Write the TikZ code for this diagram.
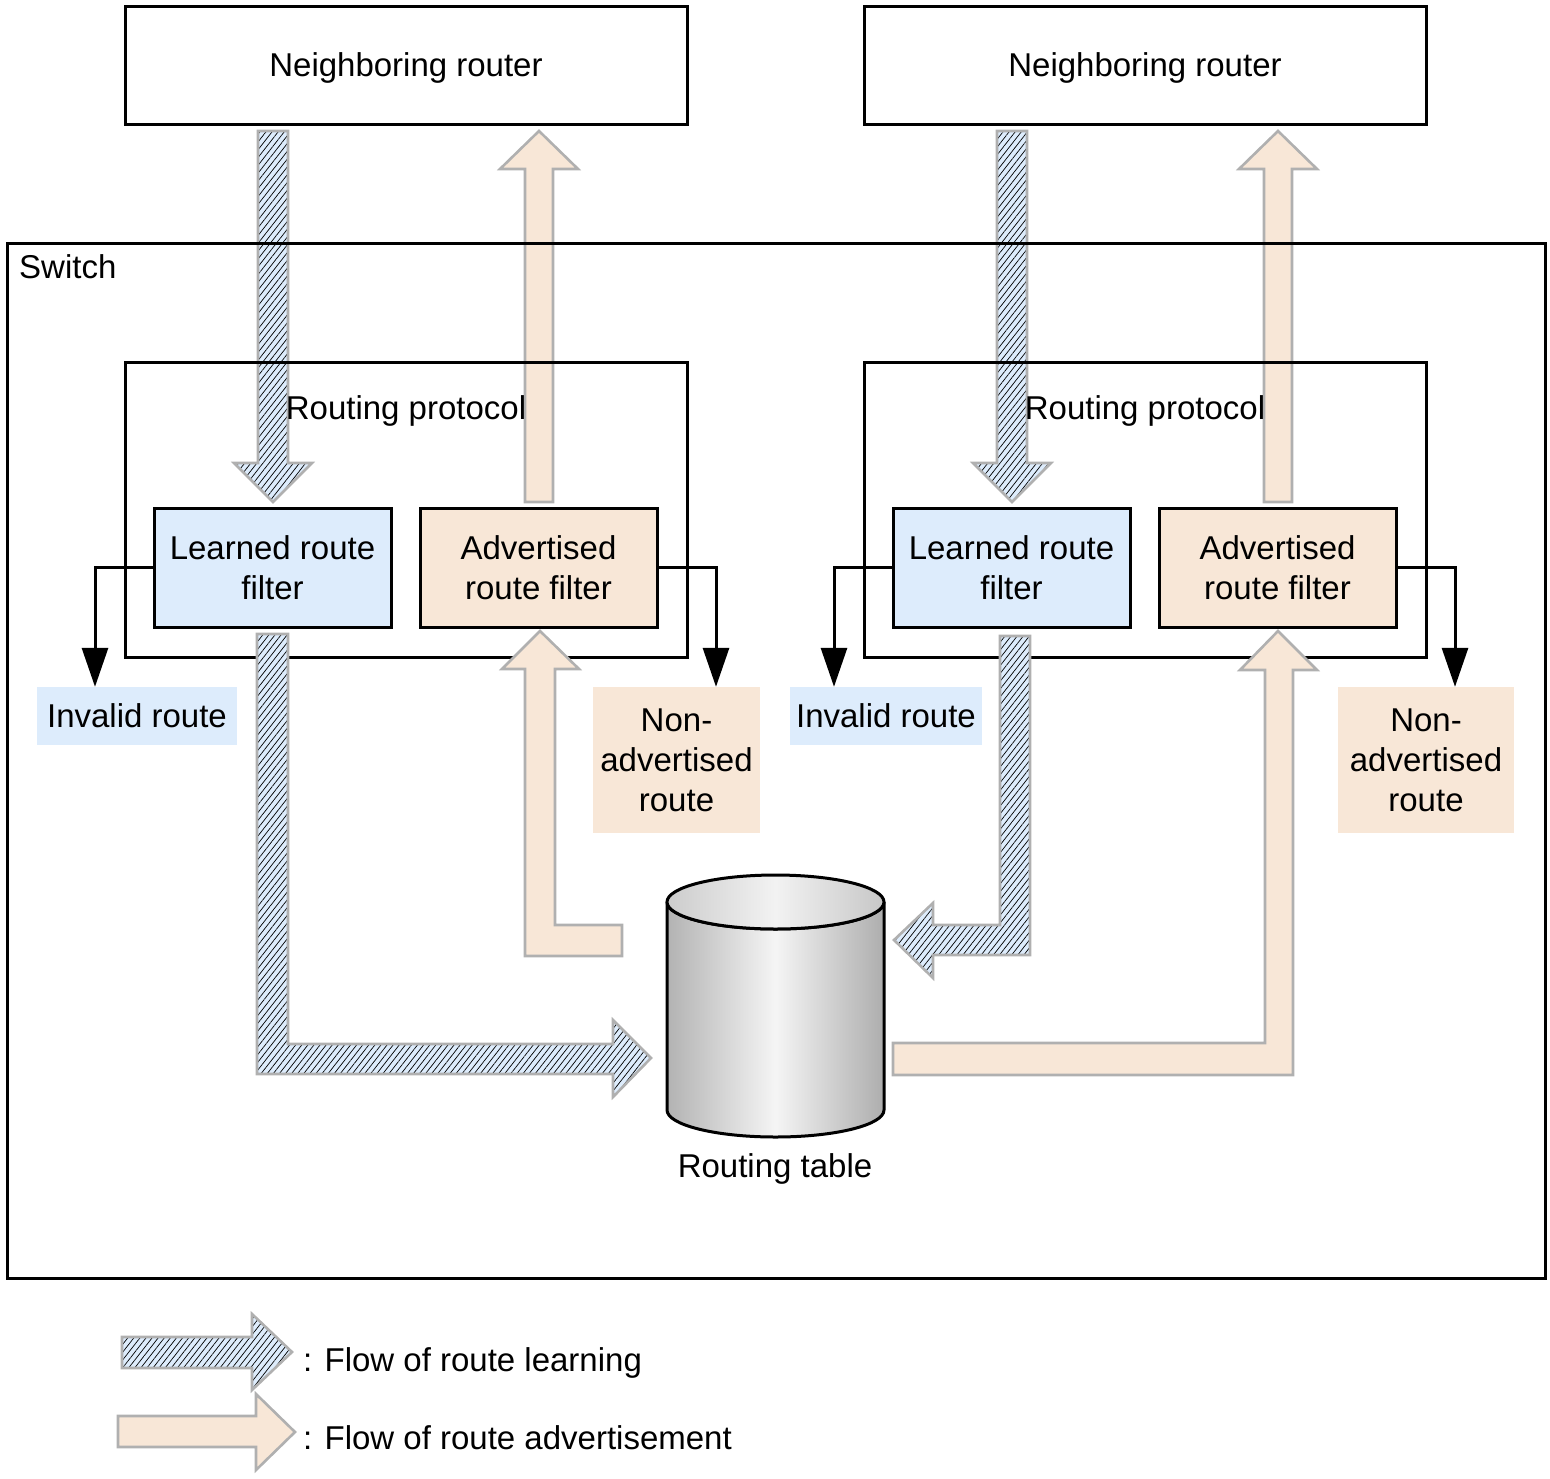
\documentclass[tikz,border=0pt]{standalone}
\usepackage{fontspec}
\setmainfont{Liberation Sans}
\usetikzlibrary{arrows.meta,patterns.meta}
\definecolor{blueF}{RGB}{221,236,252}
\definecolor{peachF}{RGB}{248,231,215}
\definecolor{arrowedge}{RGB}{176,176,176}
\begin{document}
\begin{tikzpicture}[x=1pt,y=-1pt,
  every node/.style={font=\fontsize{33}{40}\selectfont, inner sep=0pt},
  frame/.style={draw=black, line width=3pt},
  bluebox/.style={frame, fill=blueF, align=center},
  peachbox/.style={frame, fill=peachF, align=center},
  oneline/.style={text height=23.6pt, text depth=0pt},
  twoline/.style={text height=63.6pt, text depth=0pt},
  threeline/.style={text height=103.6pt, text depth=0pt},
  bluelabel/.style={fill=blueF, oneline},
  peachlabel/.style={fill=peachF, threeline, align=center},
  conn/.style={line width=3pt, -{Triangle[length=39pt,width=26pt]}},
  hatcharrow/.style={draw=arrowedge, line width=2.6pt, line join=miter,
    preaction={fill=blueF},
    pattern={Lines[angle=52,distance=4.8pt,line width=0.7pt]}, pattern color=black},
  peacharrow/.style={draw=arrowedge, line width=2.6pt, line join=miter, fill=peachF},
]
\useasboundingbox (0,0) rectangle (1550,1478);

% arrows from/to neighboring routers (behind the frames)
\path[hatcharrow] (258,131) -- (288,131) -- (288,463) -- (312,463) -- (273,502) -- (234,463) -- (258,463) -- cycle;
\path[hatcharrow] (997,131) -- (1027,131) -- (1027,463) -- (1051,463) -- (1012,502) -- (973,463) -- (997,463) -- cycle;
\path[peacharrow] (525,502) -- (553,502) -- (553,169) -- (578,169) -- (539,131) -- (500,169) -- (525,169) -- cycle;
\path[peacharrow] (1264,502) -- (1292,502) -- (1292,169) -- (1317,169) -- (1278,131) -- (1239,169) -- (1264,169) -- cycle;

% neighboring routers
\node[frame, minimum width=562pt, minimum height=118pt, oneline] (nr1) at (406,65) {Neighboring router};
\node[frame, minimum width=562pt, minimum height=118pt, oneline] (nr2) at (1145,65) {Neighboring router};

% switch
\node[frame, minimum width=1538pt, minimum height=1035pt] (sw) at (776,760.5) {};
\node[anchor=base west] (swl) at (19,278) {Switch};

% routing protocol boxes
\node[frame, minimum width=562pt, minimum height=295pt] (rp1) at (406,509.5) {};
\node[frame, minimum width=562pt, minimum height=295pt] (rp2) at (1145,509.5) {};
\node[oneline] (rpt1) at (406,408) {Routing protocol};
\node[oneline] (rpt2) at (1145,408) {Routing protocol};

% filters
\node[bluebox, twoline, minimum width=237pt, minimum height=119pt] (lf1) at (272.5,567.5) {Learned route\\filter};
\node[peachbox, twoline, minimum width=237pt, minimum height=119pt] (af1) at (538.5,567.5) {Advertised\\route filter};
\node[bluebox, twoline, minimum width=237pt, minimum height=119pt] (lf2) at (1011.5,567.5) {Learned route\\filter};
\node[peachbox, twoline, minimum width=237pt, minimum height=119pt] (af2) at (1277.5,567.5) {Advertised\\route filter};

% result labels
\node[bluelabel, minimum width=200pt, minimum height=58pt] (inv1) at (137,716) {Invalid route};
\node[bluelabel, minimum width=192pt, minimum height=58pt] (inv2) at (886,716) {Invalid route};
\node[peachlabel, minimum width=167pt, minimum height=146pt] (na1) at (676.5,760) {Non-\\advertised\\route};
\node[peachlabel, minimum width=176pt, minimum height=146pt] (na2) at (1426,760) {Non-\\advertised\\route};

% black connectors
\draw[conn] (lf1.west) -| ([xshift=-42pt]inv1.north);
\draw[conn] (af1.east) -| ([xshift=39.5pt]na1.north);
\draw[conn] (lf2.west) -| ([xshift=-52pt]inv2.north);
\draw[conn] (af2.east) -| ([xshift=29pt]na2.north);

% routing table cylinder
\shadedraw[draw=black, line width=3pt, left color=black!30, right color=black!32, middle color=black!4]
  (667,902) -- (667,1110) arc[start angle=180, end angle=0, x radius=108.5, y radius=27]
  -- (884,902) arc[start angle=0, end angle=180, x radius=108.5, y radius=27] -- cycle;
\shadedraw[draw=black, line width=3pt, left color=black!20, right color=black!22, middle color=black!5]
  (775.5,902) ellipse[x radius=108.5, y radius=27];
\node[anchor=base] (rtl) at (775,1177) {Routing table};

% internal flow arrows (on top of frames)
\path[hatcharrow] (257,634) -- (288,634) -- (288,1044) -- (613,1044) -- (613,1020) -- (651,1058) -- (613,1097) -- (613,1074) -- (257,1074) -- cycle;
\path[hatcharrow] (1000,636) -- (1030,636) -- (1030,955) -- (933,955) -- (933,978) -- (894,940) -- (933,903) -- (933,925) -- (1000,925) -- cycle;
\path[peacharrow] (622,925) -- (622,956) -- (525,956) -- (525,669) -- (502,669) -- (540,631) -- (579,669) -- (555,669) -- (555,925) -- cycle;
\path[peacharrow] (893,1043) -- (1265,1043) -- (1265,670) -- (1240,670) -- (1278,631) -- (1317,670) -- (1293,670) -- (1293,1075) -- (893,1075) -- cycle;

% legend
\path[hatcharrow] (122,1337) -- (252,1337) -- (252,1314) -- (292,1352) -- (252,1390) -- (252,1368) -- (122,1368) -- cycle;
\path[peacharrow] (118,1416) -- (256,1416) -- (256,1394) -- (295,1432) -- (256,1470) -- (256,1447) -- (118,1447) -- cycle;
\node[anchor=base west] (lg1) at (303,1371) {: Flow of route learning};
\node[anchor=base west] (lg2) at (303,1449) {: Flow of route advertisement};
\end{tikzpicture}
\end{document}
